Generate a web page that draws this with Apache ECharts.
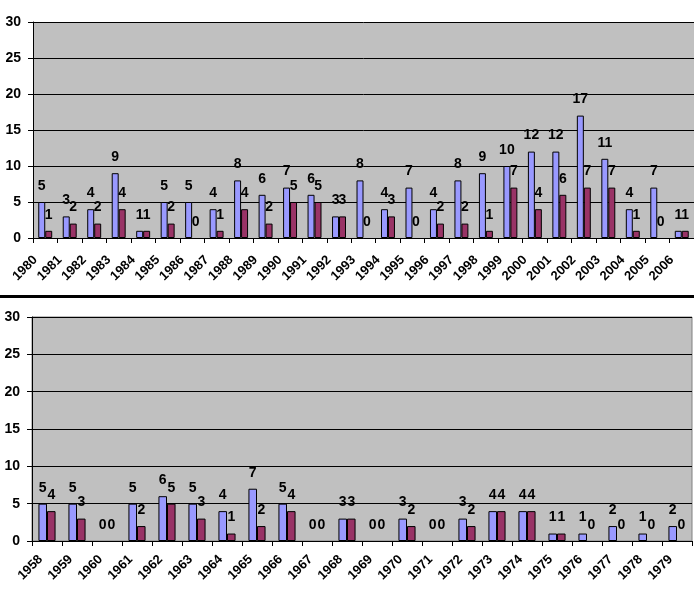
<!DOCTYPE html>
<html>
<head>
<meta charset="utf-8">
<script src="https://cdn.jsdelivr.net/npm/echarts@6/dist/echarts.min.js"></script>
<style>
html,body{margin:0;padding:0;background:#fff;}
#c{width:694px;height:591px;}
</style>
</head>
<body>
<div id="c"></div>
<script>
// Top panel: 1980-2006
var topYears = ['1980','1981','1982','1983','1984','1985','1986','1987','1988','1989','1990','1991','1992','1993','1994','1995','1996','1997','1998','1999','2000','2001','2002','2003','2004','2005','2006'];
var topBlue = [5,3,4,9,1,5,5,4,8,6,7,6,3,8,4,7,4,8,9,10,12,12,17,11,4,7,1];
var topRed  = [1,2,2,4,1,2,0,1,4,2,5,5,3,0,3,0,2,2,1,7,4,6,7,7,1,0,1];
// Bottom panel: 1958-1979
var botYears = ['1958','1959','1960','1961','1962','1963','1964','1965','1966','1967','1968','1969','1970','1971','1972','1973','1974','1975','1976','1977','1978','1979'];
var botBlue = [5,5,0,5,6,5,4,7,5,0,3,0,3,0,3,4,4,1,1,2,1,2];
var botRed  = [4,3,0,2,5,3,1,2,4,0,3,0,2,0,2,4,4,1,0,0,0,0];
var yTicks = [0,5,10,15,20,25,30];

var FONT = 'Liberation Sans, Arial, sans-serif';
var chart = echarts.init(document.getElementById('c'), null, {renderer:'canvas'});

function xAxis(idx, data, pad){
  return {
    type:'category', gridIndex:idx, data:data,
    axisLine:{lineStyle:{color:'#000',width:1}},
    axisTick:{show:true, length:5, lineStyle:{color:'#000'}},
    axisLabel:{rotate:45, interval:0, margin:10, color:'#000', fontFamily:FONT, fontWeight:'bold', fontSize:13, padding:[0,pad,0,0]}
  };
}
function yAxis(idx){
  return {
    type:'value', gridIndex:idx, min:yTicks[0], max:yTicks[yTicks.length-1], interval:5,
    axisLine:{show:true, lineStyle:{color:'#000',width:1}},
    axisTick:{show:true, length:5, lineStyle:{color:'#000'}},
    axisLabel:{margin:12, color:'#000', fontFamily:FONT, fontWeight:'bold', fontSize:14},
    splitLine:{show:true, lineStyle:{color:'#000', width:1}}
  };
}
function prep(arr){
  return arr.map(function(v){ return v === 0 ? {value:v, itemStyle:{borderWidth:0}} : v; });
}
function bar(idx, data, color){
  return {
    type:'bar', xAxisIndex:idx, yAxisIndex:idx, data:prep(data),
    barGap:'0%', barCategoryGap:'43%',
    itemStyle:{color:color, borderColor:'#000', borderWidth:1},
    label:{show:true, position:'top', distance:9, color:'#000', fontFamily:FONT, fontWeight:'bold', fontSize:14},
    animation:false
  };
}

chart.setOption({
  animation:false,
  backgroundColor:'#fff',
  grid:[
    {left:33, right:0, top:22, bottom:353, show:true, backgroundColor:'#C0C0C0', borderWidth:0},
    {left:32, right:2, top:317, bottom:50, show:true, backgroundColor:'#C0C0C0', borderColor:'#808080', borderWidth:1}
  ],
  xAxis:[xAxis(0, topYears, 14), xAxis(1, botYears, 9)],
  yAxis:[yAxis(0), yAxis(1)],
  series:[
    bar(0, topBlue, '#9999FF'), bar(0, topRed, '#993366'),
    bar(1, botBlue, '#9999FF'), bar(1, botRed, '#993366')
  ],
  graphic:[
    {type:'rect', shape:{x:0, y:295, width:694, height:3}, style:{fill:'#000'}}
  ]
});
</script>
</body>
</html>
